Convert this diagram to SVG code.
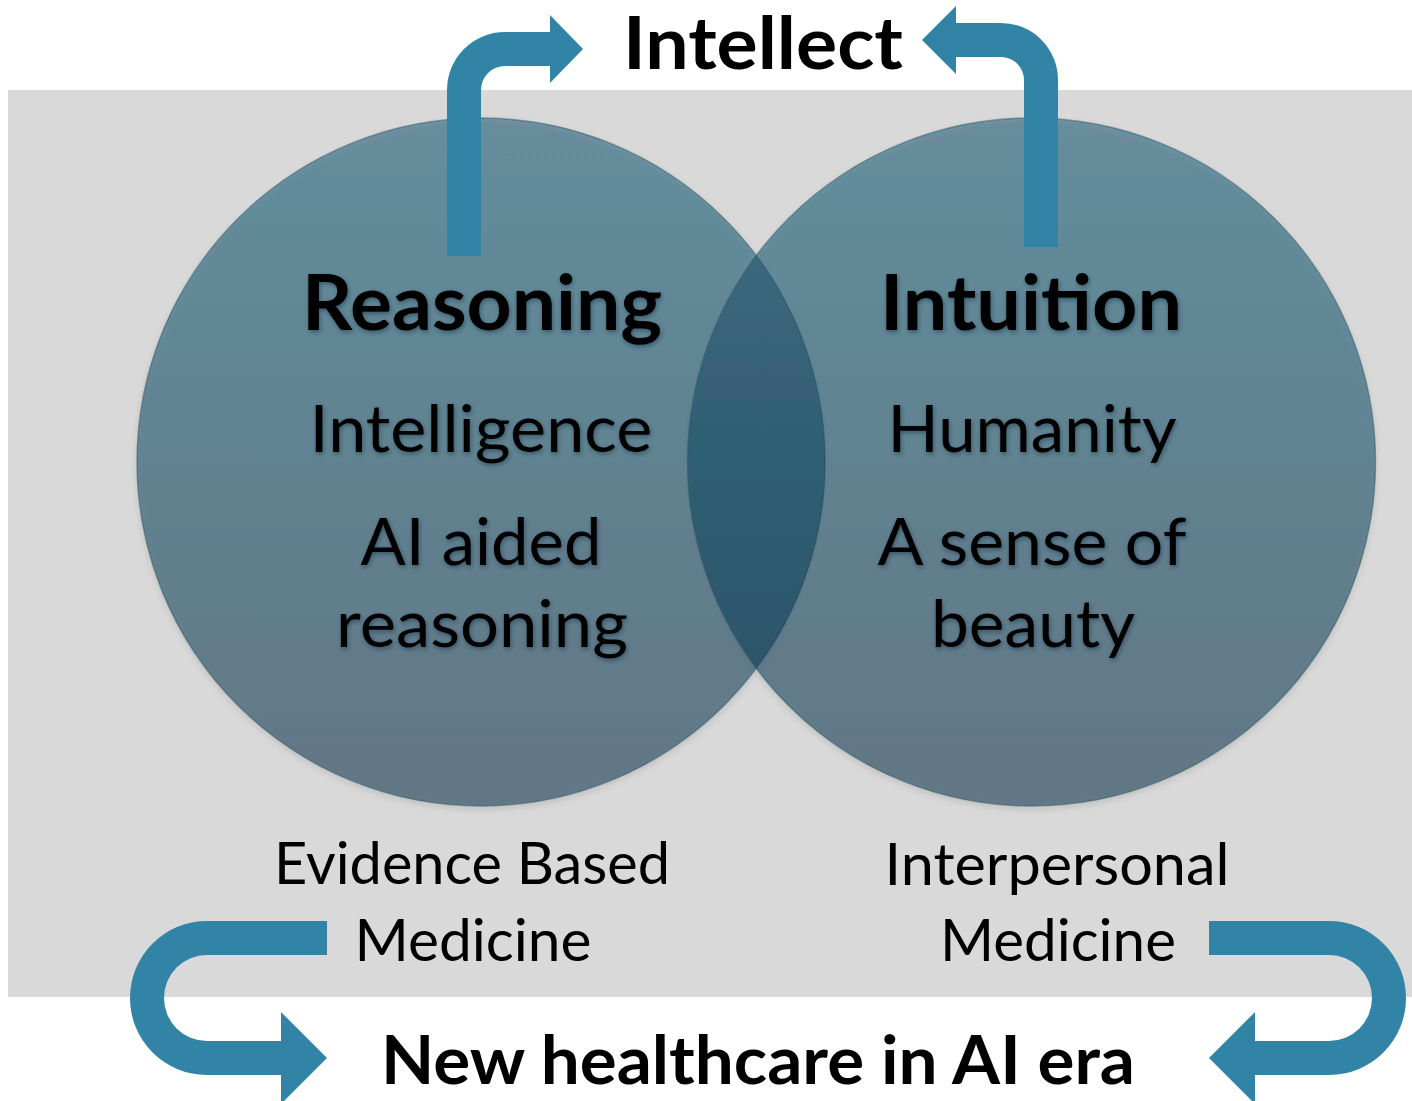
<svg xmlns="http://www.w3.org/2000/svg" width="1412" height="1101" viewBox="0 0 1412 1101">
  <style>
    .t { font-family: Lato, "Open Sans", "Liberation Sans", sans-serif; fill: #000; text-anchor: middle; }
    .b { font-weight: 700; }
    .r { font-weight: 400; }
    .arrow { fill: #3284a7; }
    .circ { fill: url(#cg); stroke: #2f5566; stroke-opacity: 0.5; stroke-width: 1.5; }
  </style>
  <defs>
    <linearGradient id="cg" x1="0" y1="0" x2="0" y2="1">
      <stop offset="0" stop-color="#0d5470" stop-opacity="0.5"/>
      <stop offset="1" stop-color="#022a45" stop-opacity="0.5"/>
    </linearGradient>
    <filter id="ts" x="-10%" y="-30%" width="120%" height="160%">
      <feDropShadow dx="1" dy="2" stdDeviation="2" flood-color="#0a2230" flood-opacity="0.45"/>
    </filter>
    <filter id="cs" x="-10%" y="-10%" width="120%" height="120%">
      <feDropShadow dx="0" dy="3" stdDeviation="3" flood-color="#000" flood-opacity="0.2"/>
    </filter>
  </defs>

  <rect id="background" x="8" y="90" width="1404" height="907" fill="#d9d9d9"/>

  <g id="circles" filter="url(#cs)">
    <circle id="circle-reasoning" class="circ" cx="481" cy="462" r="344"/>
    <circle id="circle-intuition" class="circ" cx="1031.5" cy="462" r="344"/>
  </g>

  <g id="connectors">
    <path id="arrow-top-left" class="arrow" d="M447,256 V90 A58,58 0 0 1 505,32 H550 V15 L583,49 L550,83 V66 H505 A24,24 0 0 0 481,90 V256 Z"/>
    <path id="arrow-top-right" class="arrow" d="M1058,247 V80 A57,57 0 0 0 1001,23 H956 V6 L922,40 L956,74 V57 H1001 A23,23 0 0 1 1024,80 V247 Z"/>
    <path id="arrow-bottom-left" class="arrow" d="M327,921 H207 A77,77 0 0 0 207,1075 H281 V1104 L327,1058 L281,1012 V1041 H207 A43,43 0 0 1 207,955 H327 Z"/>
    <path id="arrow-bottom-right" class="arrow" d="M1209,921 H1329 A77,77 0 0 1 1329,1075 H1255 V1104 L1209,1058 L1255,1012 V1041 H1329 A43,43 0 0 0 1329,955 H1209 Z"/>
  </g>

  <g id="node-intellect">
    <text class="t b" x="763" y="69" font-size="72" textLength="280" lengthAdjust="spacingAndGlyphs">Intellect</text>
  </g>

  <g id="node-reasoning" filter="url(#ts)">
    <text class="t b" x="482" y="330" font-size="76" textLength="360" lengthAdjust="spacingAndGlyphs">Reasoning</text>
    <text class="t r" x="481" y="452" font-size="66" textLength="343" lengthAdjust="spacingAndGlyphs">Intelligence</text>
    <text class="t r" x="481" y="565" font-size="66" textLength="241" lengthAdjust="spacingAndGlyphs">AI aided</text>
    <text class="t r" x="482" y="647" font-size="66" textLength="292" lengthAdjust="spacingAndGlyphs">reasoning</text>
  </g>

  <g id="node-intuition" filter="url(#ts)">
    <text class="t b" x="1031" y="330" font-size="76" textLength="302" lengthAdjust="spacingAndGlyphs">Intuition</text>
    <text class="t r" x="1032" y="452" font-size="66" textLength="289" lengthAdjust="spacingAndGlyphs">Humanity</text>
    <text class="t r" x="1032" y="565" font-size="66" textLength="309" lengthAdjust="spacingAndGlyphs">A sense of</text>
    <text class="t r" x="1033" y="647" font-size="66" textLength="204" lengthAdjust="spacingAndGlyphs">beauty</text>
  </g>

  <g id="node-ebm">
    <text class="t r" x="472" y="884" font-size="58" textLength="396" lengthAdjust="spacingAndGlyphs">Evidence Based</text>
    <text class="t r" x="473" y="961" font-size="58" textLength="237" lengthAdjust="spacingAndGlyphs">Medicine</text>
  </g>

  <g id="node-ipm">
    <text class="t r" x="1057" y="885" font-size="58" textLength="345" lengthAdjust="spacingAndGlyphs">Interpersonal</text>
    <text class="t r" x="1058" y="961" font-size="58" textLength="236" lengthAdjust="spacingAndGlyphs">Medicine</text>
  </g>

  <g id="node-new-healthcare">
    <text class="t b" x="758" y="1084" font-size="66" textLength="754" lengthAdjust="spacingAndGlyphs">New healthcare in AI era</text>
  </g>
</svg>
